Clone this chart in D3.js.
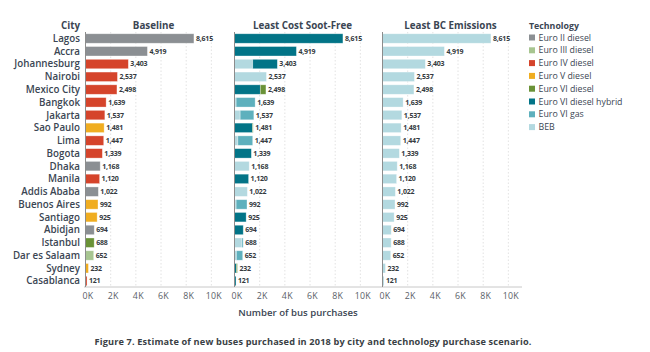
<!DOCTYPE html>
<html>
<head>
<meta charset="utf-8">
<script src="https://cdn.jsdelivr.net/npm/d3@7"></script>
<style>
  body { margin: 0; background: #fff; }
  svg text { font-family: "Open Sans", sans-serif; }
</style>
</head>
<body>
<div id="chart"></div>
<script>
// data
var cities = ["Lagos","Accra","Johannesburg","Nairobi","Mexico City","Bangkok","Jakarta","Sao Paulo","Lima","Bogota",
              "Dhaka","Manila","Addis Ababa","Buenos Aires","Santiago","Abidjan","Istanbul","Dar es Salaam","Sydney","Casablanca"];
var totals = [8615,4919,3403,2537,2498,1639,1537,1481,1447,1339,1168,1120,1022,992,925,694,688,652,232,121];

var techs = ["Euro II diesel","Euro III diesel","Euro IV diesel","Euro V diesel","Euro VI diesel","Euro VI diesel hybrid","Euro VI gas","BEB"];
var techColors = ["#8b8f93","#a7c590","#d5442b","#f0ad20","#6a9237","#027487","#5eb0bd","#b3d9e0"];

// baseline: whole fleet in one technology per city
var baselineTech = ["Euro II diesel","Euro II diesel","Euro IV diesel","Euro IV diesel","Euro IV diesel","Euro IV diesel","Euro IV diesel","Euro V diesel","Euro IV diesel","Euro IV diesel",
                    "Euro II diesel","Euro IV diesel","Euro II diesel","Euro V diesel","Euro V diesel","Euro II diesel","Euro VI diesel","Euro III diesel","Euro V diesel","Euro IV diesel"];

// least cost soot-free split
var sfBEB    = [0,0,1450,2537,0,130,450,0,270,0,1168,0,1022,130,0,0,590,150,0,0];
var sfGas    = [0,0,0,0,0,1509,1087,0,1177,0,0,0,0,862,0,0,98,502,0,0];
var sfHybrid = [8615,4919,1953,0,2050,0,0,1431,0,1339,0,1120,0,0,925,694,0,0,150,121];
var sfEuroVI = [0,0,0,0,448,0,0,50,0,0,0,0,0,0,0,0,0,0,82,0];

// least BC emissions: all BEB
var bcBEB = totals.slice();

var panelTitles = ["Baseline","Least Cost Soot-Free","Least BC Emissions"];
var tickVals = [0,2000,4000,6000,8000,10000];

function init(){
    var w = 650, h = 352;
    var svg = d3.select("#chart").append("svg").attr("width", w).attr("height", h);

    var colour = d3.scaleOrdinal().domain(techs).range(techColors);

    // build rows per panel
    function blank(){ var o = {}; techs.forEach(function(t){ o[t] = 0; }); return o; }
    var panels = [[],[],[]];
    cities.forEach(function(c, i){
        var b = blank(); b.city = c; b[baselineTech[i]] = totals[i]; panels[0].push(b);
        var s = blank(); s.city = c;
        s["BEB"] = sfBEB[i]; s["Euro VI gas"] = sfGas[i]; s["Euro VI diesel hybrid"] = sfHybrid[i]; s["Euro VI diesel"] = sfEuroVI[i];
        panels[1].push(s);
        var e = blank(); e.city = c; e["BEB"] = bcBEB[i]; panels[2].push(e);
    });

    var stackKeys = techs.slice().reverse(); // BEB first from the left
    var stack = d3.stack().keys(stackKeys);

    var y = d3.scaleBand().domain(cities).range([32.5, 287]).paddingInner(0.26).paddingOuter(0.1);
    var panelX = [85.5, 234.5, 382.5];
    var panelW = 146;
    var axisY = 287;

    // city labels
    svg.selectAll("text.city").data(cities).enter().append("text")
        .attr("class","city")
        .attr("x", 80).attr("y", function(d){ return y(d) + y.bandwidth()/2; })
        .attr("dy","0.35em").attr("text-anchor","end")
        .attr("font-size", 9.8).attr("font-weight", 600).attr("fill", "#3b4653")
        .text(function(d){ return d; });

    svg.append("text").attr("x", 80).attr("y", 26).attr("dy","0.35em").attr("text-anchor","end")
        .attr("font-size", 9.8).attr("font-weight", 700).attr("fill", "#3b4653").text("City");

    // bottom base line
    svg.append("line").attr("x1", 84).attr("x2", 522).attr("y1", axisY).attr("y2", axisY)
        .attr("stroke", "#c8c8c8").attr("stroke-width", 1);

    panels.forEach(function(rows, p){
        var x = d3.scaleLinear().domain([0, 11600]).range([panelX[p], panelX[p] + panelW]);
        var g = svg.append("g");

        // dotted grid
        g.selectAll("line.grid").data(tickVals.slice(1)).enter().append("line")
            .attr("x1", function(d){ return x(d); }).attr("x2", function(d){ return x(d); })
            .attr("y1", 32).attr("y2", axisY)
            .attr("stroke", "#dcdcdc").attr("stroke-width", 0.8).attr("stroke-dasharray", "1.5,2");

        // bars
        var series = stack(rows);
        g.selectAll("g.s").data(series).enter().append("g")
            .attr("fill", function(d){ return colour(d.key); })
            .selectAll("rect").data(function(d){ return d; }).enter()
            .filter(function(d){ return d[1] - d[0] > 0; })
            .append("rect")
            .attr("x", function(d){ return x(d[0]); })
            .attr("y", function(d){ return y(d.data.city); })
            .attr("width", function(d){ return x(d[1]) - x(d[0]); })
            .attr("height", y.bandwidth())
            .attr("stroke", "#fff").attr("stroke-opacity", 0.45).attr("stroke-width", 0.7);

        // value labels
        g.selectAll("text.val").data(totals).enter().append("text")
            .attr("x", function(d){ return x(d) + 2; })
            .attr("y", function(d, i){ return y(cities[i]) + y.bandwidth()/2; })
            .attr("dy","0.35em")
            .attr("font-size", 7).attr("font-weight", 700).attr("fill", "#353a40")
            .attr("letter-spacing", "-0.2")
            .text(function(d){ return d3.format(",")(d); });

        // zero axis line
        g.append("line").attr("x1", x(0)).attr("x2", x(0)).attr("y1", 32).attr("y2", axisY)
            .attr("stroke", "#8c8c8c").attr("stroke-width", 1);

        // x axis
        var ax = d3.axisBottom(x).tickValues(tickVals).tickSize(0).tickPadding(6)
            .tickFormat(function(d){ return (d/1000) + "K"; });
        var axg = g.append("g").attr("transform", "translate(2," + axisY + ")").call(ax);
        axg.select(".domain").remove();
        axg.selectAll("text").attr("font-size", 8.8).attr("fill", "#5a6068")
            .attr("letter-spacing", "0.3")
            .style("font-family", "\"Open Sans\", sans-serif");

        // panel title
        g.append("text").attr("x", panelX[p] + 68).attr("y", 26).attr("dy","0.35em")
            .attr("text-anchor","middle").attr("font-size", 9.8).attr("font-weight", 700)
            .attr("fill", "#3b4653").text(panelTitles[p]);
    });

    // axis title
    svg.append("text").attr("x", 298).attr("y", 313).attr("dy","0.35em").attr("text-anchor","middle")
        .attr("font-size", 9.6).attr("font-weight", 600).attr("fill", "#3b4653").text("Number of bus purchases");

    // legend
    svg.append("text").attr("x", 529).attr("y", 26).attr("dy","0.35em")
        .attr("font-size", 8.8).attr("font-weight", 700).attr("fill", "#3b4653").text("Technology");
    var leg = svg.selectAll("g.leg").data(techs).enter().append("g")
        .attr("transform", function(d, i){ return "translate(529," + (37.5 + i*12.8) + ")"; });
    leg.append("rect").attr("x", 0).attr("y", -3).attr("width", 6).attr("height", 6)
        .attr("fill", function(d){ return colour(d); });
    leg.append("text").attr("x", 9.5).attr("y", 0).attr("dy","0.35em")
        .attr("font-size", 8.8).attr("fill", "#3b4653").text(function(d){ return d; });

    // caption
    svg.append("text").attr("x", 313).attr("y", 342).attr("dy","0.35em").attr("text-anchor","middle")
        .attr("font-size", 9.2).attr("font-weight", 700).attr("fill", "#3a3f45")
        .attr("letter-spacing", "0.15")
        .text("Figure 7. Estimate of new buses purchased in 2018 by city and technology purchase scenario.");
}
window.onload = init;
</script>
</body>
</html>
